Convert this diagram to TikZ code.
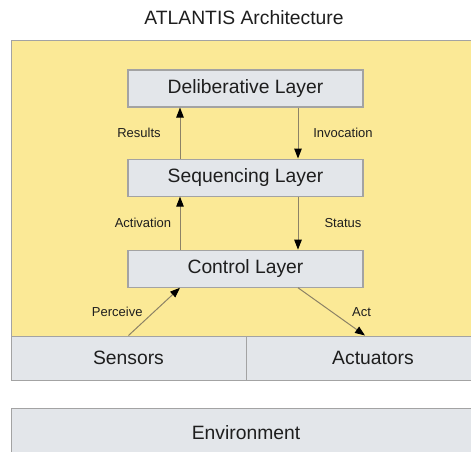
\documentclass[tikz,border=0pt]{standalone}
\usepackage{fontspec}
\setmainfont{Liberation Sans}
\usepackage{tikz}
\usetikzlibrary{positioning,arrows.meta}
\definecolor{sand}{HTML}{FBE996}
\definecolor{panel}{HTML}{E3E6EA}
\definecolor{rim}{HTML}{A3A3A3}
\definecolor{wire}{HTML}{8C8266}
\definecolor{ink}{HTML}{1E1E1E}

\begin{document}
\begin{tikzpicture}[x=1pt, y=-1pt,
  lyr/.style={draw=rim, line width=1.1pt, fill=panel, minimum width=235pt,
              minimum height=37pt, inner sep=0pt, text=ink,
              font=\fontsize{19.3}{22}\selectfont},
  bar/.style={draw=rim, line width=1pt, fill=panel, minimum height=44pt,
              inner sep=0pt, text=ink, font=\fontsize{19.3}{22}\selectfont},
  lbl/.style={text=ink, inner sep=0pt, font=\fontsize{13}{15}\selectfont},
  arr/.style={-{Triangle[length=10pt,width=7.5pt,color=black]}, draw=wire,
              line width=1pt}]
  \useasboundingbox (0,0) rectangle (471,452);
  \fill[white] (0,0) rectangle (471,452);
  \node[text=ink, font=\fontsize{19.3}{22}\selectfont] (title) at (244,18)
    {ATLANTIS Architecture};
  % agent area
  \draw[rim, fill=sand] (11,40) rectangle (490,336);
  \node[lyr] (dl) at (245.5,88.5) {Deliberative Layer};
  \node[lyr, below=51pt of dl] (sq) {Sequencing Layer};
  \node[lyr, below=53pt of sq] (ctl) {Control Layer};
  \node[bar, minimum width=235pt] (sens) at (128.5,358) {Sensors};
  \node[bar, minimum width=254pt] (act) at (373,358) {Actuators};
  \node[bar, minimum width=470pt, minimum height=50pt] (env) at (246,433)
    {Environment};
  % links between layers
  \draw[arr] ([xshift=-65.5pt]sq.north) -- ([xshift=-65.5pt]dl.south)
    node[lbl, midway, xshift=-41pt] {Results};
  \draw[arr] ([xshift=52.5pt]dl.south) -- ([xshift=52.5pt]sq.north)
    node[lbl, midway, xshift=45pt] {Invocation};
  \draw[arr] ([xshift=-65.5pt]ctl.north) -- ([xshift=-65.5pt]sq.south)
    node[lbl, midway, xshift=-37pt] {Activation};
  \draw[arr] ([xshift=52.5pt]sq.south) -- ([xshift=52.5pt]ctl.north)
    node[lbl, midway, xshift=45pt] {Status};
  \draw[arr] (sens.north) -- ([xshift=-65.5pt]ctl.south)
    node[lbl, midway, xshift=-37pt] {Perceive};
  \draw[arr] ([xshift=52.5pt]ctl.south) -- ([xshift=-8pt]act.north)
    node[lbl, midway, xshift=30pt] {Act};
\end{tikzpicture}
\end{document}
